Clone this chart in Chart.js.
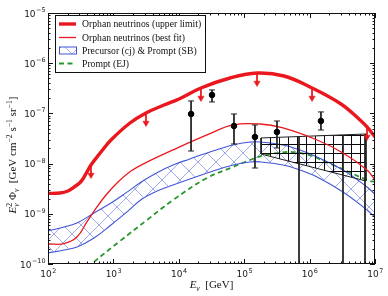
<!DOCTYPE html>
<html>
<head>
<meta charset="utf-8">
<script src="https://cdn.jsdelivr.net/npm/chart.js@4.4.0/dist/chart.umd.min.js"></script>
<style>
html, body { margin: 0; padding: 0; background: #fff; }
canvas { display: block; }
</style>
</head>
<body>
<canvas id="nuChart" width="388" height="296"></canvas>
<script>
// energies in GeV, fluxes E^2 Phi in GeV cm^-2 s^-1 sr^-1
const upperLimitE = [100, 152, 202, 250, 320, 381, 454, 646, 918, 1790, 3150, 5940, 1.01e4, 2.18e4, 6.07e4, 1.57e5, 4.06e5, 1.09e6, 3.02e6, 5.9e6, 7.55e6, 1e7];
const upperLimitFlux = [2.55e-9, 2.6e-9, 2.85e-9, 3.4e-9, 4.4e-9, 6.3e-9, 9.37e-9, 1.7e-8, 2.95e-8, 6.44e-8, 1.02e-7, 1.47e-7, 1.94e-7, 3.21e-7, 5.07e-7, 6.38e-7, 5.56e-7, 3.21e-7, 1.54e-7, 7.4e-8, 5.36e-8, 3.39e-8];

const bestFitE = [100, 176, 277, 394, 561, 771, 1136, 1858, 2938, 8150, 2.7e4, 6.74e4, 1.74e5, 3.92e5, 1.3e6, 3.24e6, 7.55e6, 1e7];
const bestFitFlux = [2.5e-10, 2.55e-10, 3.45e-10, 6.87e-10, 1.37e-9, 2.37e-9, 4.11e-9, 7.1e-9, 1.0e-8, 1.87e-8, 3.72e-8, 5.88e-8, 6.15e-8, 5.12e-8, 2.95e-8, 1.63e-8, 7.46e-9, 4.71e-9];

const bandE = [100, 176, 277, 505, 918, 1614, 2735, 4645, 8150, 1.48e4, 2.7e4, 6.74e4, 1.23e5, 1.74e5, 3.92e5, 7.13e5, 1.3e6, 3.24e6, 7.55e6, 1e7];
const bandUpper = [4.54e-10, 5.46e-10, 6.56e-10, 1.04e-9, 1.64e-9, 2.7e-9, 4.4e-9, 6.6e-9, 9.37e-9, 1.24e-8, 1.63e-8, 2.35e-8, 2.69e-8, 2.69e-8, 2.35e-8, 1.87e-8, 1.35e-8, 7.46e-9, 3.42e-9, 2.48e-9];
const bandLower = [1.66e-10, 1.9e-10, 2.18e-10, 3.3e-10, 5.98e-10, 1.09e-9, 1.97e-9, 2.84e-9, 3.75e-9, 4.93e-9, 6.5e-9, 9.37e-9, 1.08e-8, 1.08e-8, 9.37e-9, 7.46e-9, 5.41e-9, 2.72e-9, 1.19e-9, 8.63e-10];

const promptE = [409, 505, 1262, 3266, 8150, 2.7e4, 6.74e4, 1.23e5, 2.48e5, 7.13e5, 2.28e6, 7.55e6, 1e7];
const promptFlux = [8.3e-11, 1.1e-10, 2.87e-10, 7.52e-10, 1.88e-9, 5.17e-9, 8.55e-9, 1.18e-8, 1.55e-8, 1.63e-8, 9.37e-9, 4.71e-9, 4.3e-9];

const pointE = [1.54e4, 3.22e4, 6.98e4, 1.46e5, 3.17e5, 1.49e6];
const pointFlux = [9.73e-8, 2.33e-7, 5.61e-8, 3.39e-8, 4.26e-8, 7.06e-8];
const pointHigh = [1.77e-7, 2.93e-7, 9.73e-8, 5.88e-8, 7.06e-8, 1.07e-7];
const pointLow = [1.78e-8, 1.69e-7, 2.46e-8, 8.17e-9, 2.05e-8, 4.67e-8];

const gridE = [1.81e5, 7.28e6];
const gridTop = [3.24e-8, 3.89e-8];
const gridBottom = [1.55e-8, 4.5e-9];

const limitE = [6.89e5, 3.24e6, 7.03e6];
const limitTop = [3.4e-8, 3.7e-8, 3.85e-8];
const limitBottom = [1e-10, 1e-10, 1e-10];

const arrowE = [454, 3150, 2.18e4, 1.57e5, 1.09e6, 7.55e6];
const arrowFrom = [9.37e-9, 1.02e-7, 3.21e-7, 6.38e-7, 3.21e-7, 5.36e-8];
const arrowTo = [5.93e-9, 6.44e-8, 2.03e-7, 4.04e-7, 2.03e-7, 3.39e-8];

const xTickExp = [2, 3, 4, 5, 6, 7];
const yTickExp = [-5, -6, -7, -8, -9, -10];

const legendLabels = ['Orphan neutrinos (upper limit)', 'Orphan neutrinos (best fit)', 'Precursor (cj) & Prompt (SB)', 'Prompt (EJ)'];

const RED = 'rgb(234,24,30)';
const BLUE = 'rgb(64,86,214)';
const GREEN = 'rgb(40,150,45)';
const SERIF = "'Liberation Serif', 'DejaVu Serif', serif";
const SANS = "'DejaVu Sans', sans-serif";

const canvas = document.getElementById('nuChart');
const ctx = canvas.getContext('2d');

const pts = (xs, ys) => xs.map((x, i) => ({ x: x, y: ys[i] }));
const segs = (xs, a, b) => xs.flatMap((x, i) => [{ x: x, y: a[i] }, { x: x, y: b[i] }, { x: x, y: null }]);

function makePattern(size, draw) {
    const c = document.createElement('canvas');
    c.width = size;
    c.height = size;
    const g = c.getContext('2d');
    draw(g, size);
    return ctx.createPattern(c, 'repeat');
}

const crossHatch = makePattern(18, (g, s) => {
    g.strokeStyle = 'rgba(130,142,228,0.75)';
    g.lineWidth = 1;
    g.beginPath();
    g.moveTo(0, 0); g.lineTo(s, s);
    g.moveTo(s, 0); g.lineTo(0, s);
    g.stroke();
});

const gridHatch = makePattern(9, (g, s) => {
    g.strokeStyle = 'rgba(10,10,10,1)';
    g.lineWidth = 1;
    g.beginPath();
    g.moveTo(0.5, 0); g.lineTo(0.5, s);
    g.moveTo(0, 0.5); g.lineTo(s, 0.5);
    g.stroke();
});

const base = { pointRadius: 0, fill: false, tension: 0 };
const smooth = { pointRadius: 0, fill: false, tension: 0.4 };

function richText(c, parts, x, y, size, draw) {
    let cx = x;
    parts.forEach(p => {
        if (p.sup !== undefined || p.sub !== undefined) {
            let w = 0;
            if (p.sup) {
                c.font = `${size * 0.7}px ${SERIF}`;
                if (draw) c.fillText(p.sup, cx, y - size * 0.4);
                w = Math.max(w, c.measureText(p.sup).width);
            }
            if (p.sub) {
                c.font = `italic ${size * 0.7}px ${SERIF}`;
                if (draw) c.fillText(p.sub, cx, y + size * 0.25);
                w = Math.max(w, c.measureText(p.sub).width);
            }
            cx += w;
        } else {
            c.font = `${p.it ? 'italic ' : ''}${size}px ${SERIF}`;
            if (draw) c.fillText(p.t, cx, y);
            cx += c.measureText(p.t).width;
        }
    });
    return cx - x;
}

function powerLabel(c, exp, x, y, align) {
    const bigFont = `9px ${SANS}`;
    const smallFont = `6.4px ${SANS}`;
    const sup = String(exp).replace('-', '\u2212');
    c.font = bigFont;
    const w1 = c.measureText('10').width;
    c.font = smallFont;
    const w2 = c.measureText(sup).width;
    const start = align === 'center' ? x - (w1 + w2) / 2 : x - (w1 + w2);
    c.font = bigFont;
    c.fillText('10', start, y);
    c.font = smallFont;
    c.fillText(sup, start + w1 + 0.5, y - 4.5);
}

const decorations = {
    id: 'decorations',
    afterDraw(chart) {
        const { ctx: c, chartArea: a, scales: { x, y } } = chart;
        c.save();
        c.strokeStyle = '#111';
        c.fillStyle = '#111';
        c.lineWidth = 1;
        c.strokeRect(a.left + 0.5, a.top + 0.5, a.right - a.left - 1, a.bottom - a.top - 1);

        // inward ticks, majors and minors
        c.beginPath();
        for (let d = 2; d <= 7; d++) {
            for (let m = 1; m < 10; m++) {
                if (d === 7 && m > 1) break;
                const px = Math.round(x.getPixelForValue(m * Math.pow(10, d))) + 0.5;
                const len = m === 1 ? 5 : 2.5;
                c.moveTo(px, a.bottom); c.lineTo(px, a.bottom - len);
                c.moveTo(px, a.top); c.lineTo(px, a.top + len);
            }
        }
        for (let d = -10; d <= -5; d++) {
            for (let m = 1; m < 10; m++) {
                if (d === -5 && m > 1) break;
                const py = Math.round(y.getPixelForValue(m * Math.pow(10, d))) + 0.5;
                const len = m === 1 ? 5 : 2.5;
                c.moveTo(a.left, py); c.lineTo(a.left + len, py);
                c.moveTo(a.right, py); c.lineTo(a.right - len, py);
            }
        }
        c.stroke();

        // tick labels
        c.fillStyle = '#1a1a1a';
        c.textBaseline = 'alphabetic';
        xTickExp.forEach(e => powerLabel(c, e, x.getPixelForValue(Math.pow(10, e)), a.bottom + 13, 'center'));
        yTickExp.forEach(e => powerLabel(c, e, a.left - 3, y.getPixelForValue(Math.pow(10, e)) + 3.5, 'right'));

        // axis titles
        c.fillStyle = '#111';
        const xTitle = [{ t: 'E', it: true }, { sub: '\u03bd' }, { t: '  [GeV]' }];
        const xw = richText(c, xTitle, 0, 0, 11, false);
        richText(c, xTitle, (a.left + a.right) / 2 - xw / 2, 288, 11, true);

        const yTitle = [{ t: 'E', it: true }, { sup: '2', sub: '\u03bd' }, { t: ' \u03a6' }, { sub: '\u03bd' },
            { t: '  [GeV cm' }, { sup: '\u22122' }, { t: ' s' }, { sup: '\u22121' }, { t: ' sr' }, { sup: '\u22121' }, { t: ']' }];
        c.save();
        c.translate(16, 155);
        c.rotate(-Math.PI / 2);
        const yw = richText(c, yTitle, 0, 0, 11, false);
        richText(c, yTitle, -yw / 2, 0, 11, true);
        c.restore();

        // legend
        const lx = 55.5, ly = 15.5, lw = 150, lh = 57;
        c.fillStyle = '#fff';
        c.fillRect(lx, ly, lw, lh);
        c.strokeStyle = '#111';
        c.strokeRect(lx, ly, lw, lh);
        const rows = [24, 37.5, 50.5, 63.5];
        c.lineCap = 'butt';
        c.strokeStyle = RED;
        c.lineWidth = 3.4;
        c.beginPath(); c.moveTo(59, rows[0]); c.lineTo(76, rows[0]); c.stroke();
        c.lineWidth = 1.3;
        c.beginPath(); c.moveTo(59, rows[1]); c.lineTo(76, rows[1]); c.stroke();
        c.fillStyle = crossHatch;
        c.fillRect(59.5, rows[2] - 3.5, 17, 7);
        c.strokeStyle = BLUE;
        c.lineWidth = 1;
        c.strokeRect(59.5, rows[2] - 3.5, 17, 7);
        c.strokeStyle = GREEN;
        c.lineWidth = 1.8;
        c.setLineDash([5, 3.5]);
        c.beginPath(); c.moveTo(59, rows[3]); c.lineTo(76, rows[3]); c.stroke();
        c.setLineDash([]);
        c.fillStyle = '#111';
        c.font = `9.7px ${SERIF}`;
        legendLabels.forEach((t, i) => c.fillText(t, 82, rows[i] + 3.3));
        c.restore();
    }
};

new Chart(ctx, {
    type: 'line',
    data: {
        datasets: [
            { ...smooth, label: 'upper limit', data: pts(upperLimitE, upperLimitFlux), borderColor: RED, borderWidth: 3.4 },
            { ...base, label: 'arrow shafts', data: segs(arrowE, arrowFrom, arrowTo), borderColor: RED, borderWidth: 1, spanGaps: false },
            { ...base, label: 'arrow heads', data: pts(arrowE, arrowTo), showLine: false, pointRadius: 3.6, pointStyle: 'triangle', rotation: 180, pointBackgroundColor: RED, pointBorderColor: RED, pointBorderWidth: 0.5 },
            { ...base, label: 'data', data: pts(pointE, pointFlux), showLine: false, pointRadius: 2.8, pointStyle: 'circle', pointBackgroundColor: '#000', pointBorderColor: '#000' },
            { ...base, label: 'error bars', data: segs(pointE, pointHigh, pointLow), borderColor: '#222', borderWidth: 1, spanGaps: false },
            { ...base, label: 'caps', data: pts(pointE, pointHigh).concat(pts(pointE, pointLow)), showLine: false, pointRadius: 3, pointStyle: 'line', pointBorderColor: '#222', pointBorderWidth: 1 },
            { ...smooth, label: 'best fit', data: pts(bestFitE, bestFitFlux), borderColor: RED, borderWidth: 1.3 },
            { ...base, label: 'limits', data: segs(limitE, limitTop, limitBottom), borderColor: '#222', borderWidth: 1, spanGaps: false },
            { ...base, label: 'grid edges', data: segs(gridE, gridTop, gridBottom), borderColor: '#222', borderWidth: 1, spanGaps: false },
            { ...base, label: 'grid top', data: pts(gridE, gridTop), borderColor: '#222', borderWidth: 1, fill: '+1', backgroundColor: gridHatch },
            { ...base, label: 'grid bottom', data: pts(gridE, gridBottom), borderColor: '#222', borderWidth: 1 },
            { ...smooth, label: 'band upper', data: pts(bandE, bandUpper), borderColor: BLUE, borderWidth: 1.1, fill: '+1', backgroundColor: crossHatch },
            { ...smooth, label: 'band lower', data: pts(bandE, bandLower), borderColor: BLUE, borderWidth: 1.1 },
            { ...smooth, label: 'prompt EJ', data: pts(promptE, promptFlux), borderColor: GREEN, borderWidth: 1.8, borderDash: [5, 3.5] }
        ]
    },
    options: {
        responsive: false,
        animation: false,
        devicePixelRatio: 1,
        layout: { padding: { top: 13, right: 13, left: 0, bottom: 0 } },
        plugins: { legend: { display: false }, tooltip: { enabled: false } },
        scales: {
            x: {
                type: 'logarithmic', min: 100, max: 1e7,
                grid: { display: false }, border: { display: false }, ticks: { display: false },
                afterFit: s => { s.height = 32; }
            },
            y: {
                type: 'logarithmic', min: 1e-10, max: 1e-5,
                grid: { display: false }, border: { display: false }, ticks: { display: false },
                afterFit: s => { s.width = 48; }
            }
        }
    },
    plugins: [decorations]
});
</script>
</body>
</html>
